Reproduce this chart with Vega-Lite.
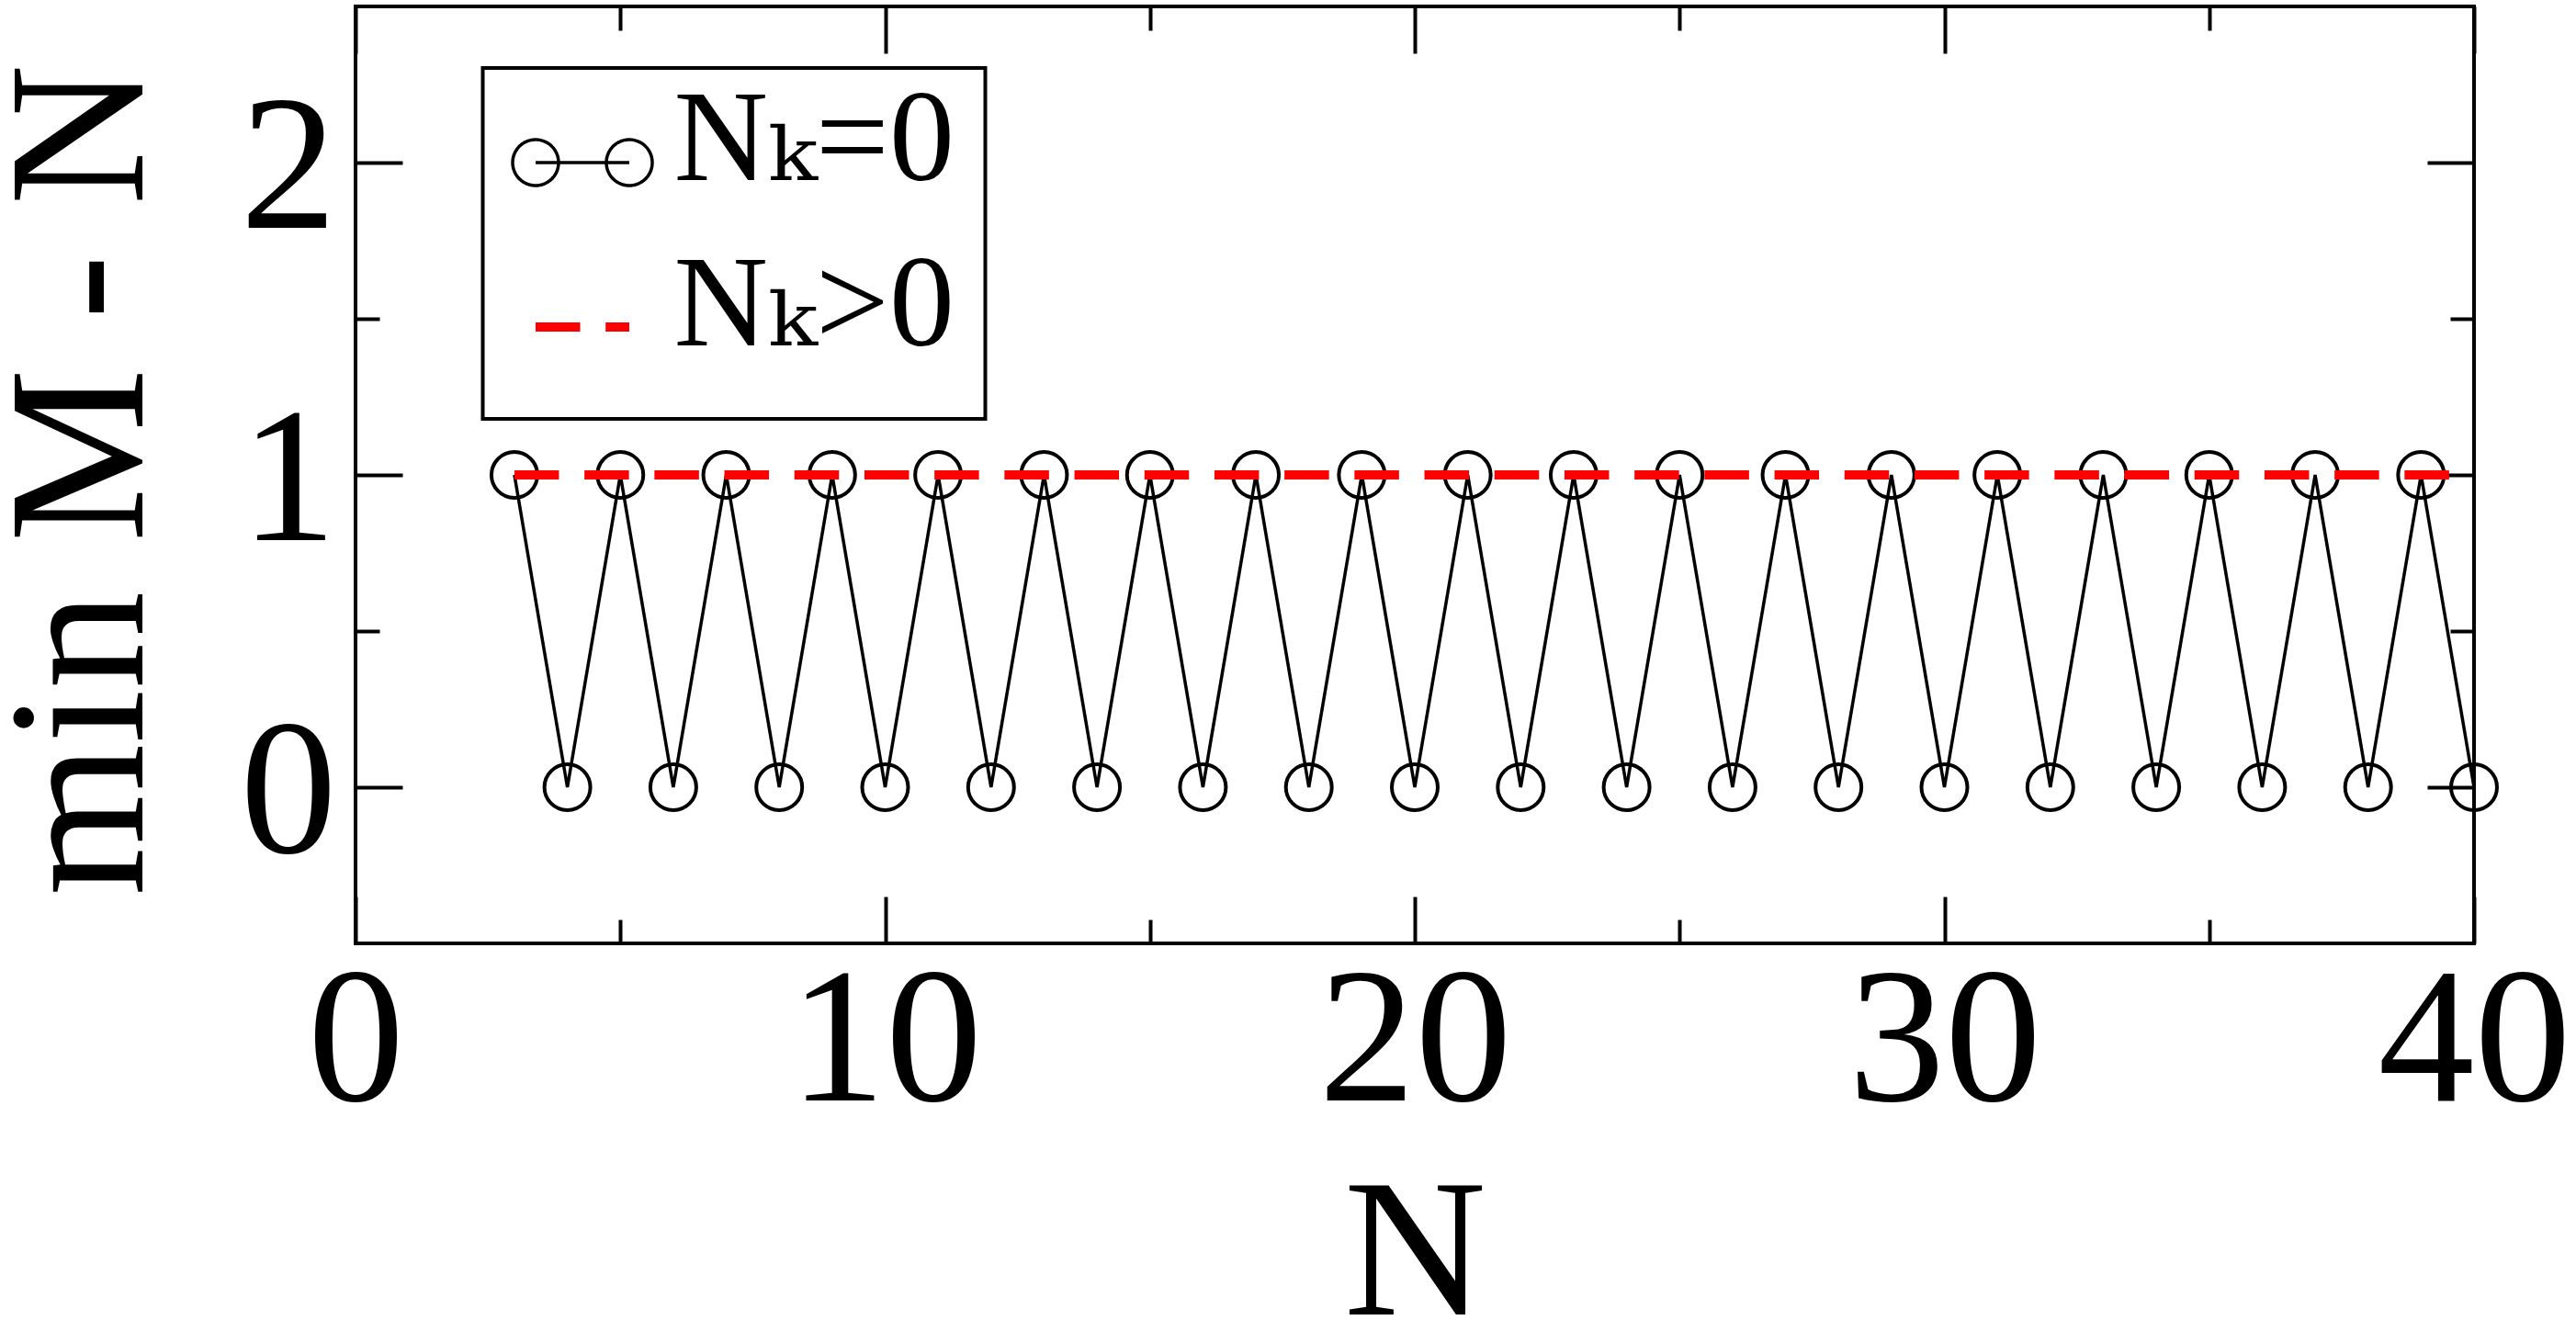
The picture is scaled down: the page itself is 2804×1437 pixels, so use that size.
{
  "$schema": "https://vega.github.io/schema/vega-lite/v6.json",
  "width": 2306,
  "height": 1020,
  "autosize": {"type": "none"},
  "padding": {"left": 387, "top": 7, "right": 111, "bottom": 410},
  "background": "white",
  "config": {
    "view": {"stroke": "black", "strokeWidth": 4},
    "font": "Liberation Serif",
    "axis": {
      "domain": false, "grid": false, "tickColor": "black", "tickWidth": 4,
      "labelColor": "black", "titleColor": "black", "labelLimit": 0,
      "labelFont": "Liberation Serif", "titleFont": "Liberation Serif",
      "titleFontWeight": "normal", "labelFlush": false, "labelOverlap": false
    },
    "legend": {"strokeWidth": 4}
  },
  "data": {
    "values": [
      {"N": 3, "v": 1, "series": "N\u2096=0"}, {"N": 4, "v": 0, "series": "N\u2096=0"},
      {"N": 5, "v": 1, "series": "N\u2096=0"}, {"N": 6, "v": 0, "series": "N\u2096=0"},
      {"N": 7, "v": 1, "series": "N\u2096=0"}, {"N": 8, "v": 0, "series": "N\u2096=0"},
      {"N": 9, "v": 1, "series": "N\u2096=0"}, {"N": 10, "v": 0, "series": "N\u2096=0"},
      {"N": 11, "v": 1, "series": "N\u2096=0"}, {"N": 12, "v": 0, "series": "N\u2096=0"},
      {"N": 13, "v": 1, "series": "N\u2096=0"}, {"N": 14, "v": 0, "series": "N\u2096=0"},
      {"N": 15, "v": 1, "series": "N\u2096=0"}, {"N": 16, "v": 0, "series": "N\u2096=0"},
      {"N": 17, "v": 1, "series": "N\u2096=0"}, {"N": 18, "v": 0, "series": "N\u2096=0"},
      {"N": 19, "v": 1, "series": "N\u2096=0"}, {"N": 20, "v": 0, "series": "N\u2096=0"},
      {"N": 21, "v": 1, "series": "N\u2096=0"}, {"N": 22, "v": 0, "series": "N\u2096=0"},
      {"N": 23, "v": 1, "series": "N\u2096=0"}, {"N": 24, "v": 0, "series": "N\u2096=0"},
      {"N": 25, "v": 1, "series": "N\u2096=0"}, {"N": 26, "v": 0, "series": "N\u2096=0"},
      {"N": 27, "v": 1, "series": "N\u2096=0"}, {"N": 28, "v": 0, "series": "N\u2096=0"},
      {"N": 29, "v": 1, "series": "N\u2096=0"}, {"N": 30, "v": 0, "series": "N\u2096=0"},
      {"N": 31, "v": 1, "series": "N\u2096=0"}, {"N": 32, "v": 0, "series": "N\u2096=0"},
      {"N": 33, "v": 1, "series": "N\u2096=0"}, {"N": 34, "v": 0, "series": "N\u2096=0"},
      {"N": 35, "v": 1, "series": "N\u2096=0"}, {"N": 36, "v": 0, "series": "N\u2096=0"},
      {"N": 37, "v": 1, "series": "N\u2096=0"}, {"N": 38, "v": 0, "series": "N\u2096=0"},
      {"N": 39, "v": 1, "series": "N\u2096=0"}, {"N": 40, "v": 0, "series": "N\u2096=0"},
      {"N": 3, "v": 1, "series": "N\u2096>0"}, {"N": 4, "v": 1, "series": "N\u2096>0"},
      {"N": 5, "v": 1, "series": "N\u2096>0"}, {"N": 6, "v": 1, "series": "N\u2096>0"},
      {"N": 7, "v": 1, "series": "N\u2096>0"}, {"N": 8, "v": 1, "series": "N\u2096>0"},
      {"N": 9, "v": 1, "series": "N\u2096>0"}, {"N": 10, "v": 1, "series": "N\u2096>0"},
      {"N": 11, "v": 1, "series": "N\u2096>0"}, {"N": 12, "v": 1, "series": "N\u2096>0"},
      {"N": 13, "v": 1, "series": "N\u2096>0"}, {"N": 14, "v": 1, "series": "N\u2096>0"},
      {"N": 15, "v": 1, "series": "N\u2096>0"}, {"N": 16, "v": 1, "series": "N\u2096>0"},
      {"N": 17, "v": 1, "series": "N\u2096>0"}, {"N": 18, "v": 1, "series": "N\u2096>0"},
      {"N": 19, "v": 1, "series": "N\u2096>0"}, {"N": 20, "v": 1, "series": "N\u2096>0"},
      {"N": 21, "v": 1, "series": "N\u2096>0"}, {"N": 22, "v": 1, "series": "N\u2096>0"},
      {"N": 23, "v": 1, "series": "N\u2096>0"}, {"N": 24, "v": 1, "series": "N\u2096>0"},
      {"N": 25, "v": 1, "series": "N\u2096>0"}, {"N": 26, "v": 1, "series": "N\u2096>0"},
      {"N": 27, "v": 1, "series": "N\u2096>0"}, {"N": 28, "v": 1, "series": "N\u2096>0"},
      {"N": 29, "v": 1, "series": "N\u2096>0"}, {"N": 30, "v": 1, "series": "N\u2096>0"},
      {"N": 31, "v": 1, "series": "N\u2096>0"}, {"N": 32, "v": 1, "series": "N\u2096>0"},
      {"N": 33, "v": 1, "series": "N\u2096>0"}, {"N": 34, "v": 1, "series": "N\u2096>0"},
      {"N": 35, "v": 1, "series": "N\u2096>0"}, {"N": 36, "v": 1, "series": "N\u2096>0"},
      {"N": 37, "v": 1, "series": "N\u2096>0"}, {"N": 38, "v": 1, "series": "N\u2096>0"},
      {"N": 39, "v": 1, "series": "N\u2096>0"}, {"N": 40, "v": 1, "series": "N\u2096>0"}
    ]
  },
  "resolve": {"axis": {"x": "independent", "y": "independent"}},
  "layer": [
    {
      "transform": [{"filter": "datum.series === 'N\u2096=0'"}],
      "mark": {"type": "line", "strokeWidth": 3.5},
      "encoding": {
        "x": {
          "field": "N", "type": "quantitative",
          "scale": {"domain": [0, 40], "nice": false, "zero": false},
          "axis": {
            "orient": "bottom", "values": [0, 10, 20, 30, 40], "tickSize": -51,
            "labelFontSize": 210, "labelPadding": 55,
            "title": "N", "titleFontSize": 215, "titleY": 403, "titleBaseline": "alphabetic"
          }
        },
        "y": {
          "field": "v", "type": "quantitative",
          "scale": {"domain": [-0.5, 2.5], "nice": false, "zero": false},
          "axis": {
            "orient": "left", "values": [0, 1, 2], "tickSize": -51,
            "labelFontSize": 210, "labelPadding": 72, "labelOffset": 7,
            "title": "min M - N", "titleFontSize": 213, "titleX": -233, "titleY": 515,
            "titleBaseline": "alphabetic", "titleAngle": -90, "titleAlign": "center"
          }
        },
        "stroke": {
          "field": "series", "type": "nominal",
          "scale": {"domain": ["N\u2096=0", "N\u2096>0"], "range": ["#000000", "#ff0000"]},
          "legend": {
            "title": " ", "titleFontSize": 1, "titlePadding": 35,
            "orient": "none", "legendX": 138.5, "legendY": 67,
            "direction": "vertical", "strokeColor": "black", "fillColor": "white",
            "padding": 15, "rowPadding": 38,
            "symbolType": {"expr": "datum.index === 0 ? 'M-0.51,-0.3725A0.49,0.49,0,1,1,-1.49,-0.3725A0.49,0.49,0,1,1,-0.51,-0.3725ZM1.49,-0.3725A0.49,0.49,0,1,1,0.51,-0.3725A0.49,0.49,0,1,1,1.49,-0.3725ZM-1,-0.3725L1,-0.3725M8.16,-0.3725' : 'M-1,-0.392L1,-0.392M0,0.88'"},
            "symbolSize": 10404, "symbolOffset": 22.5, "symbolFillColor": "transparent",
            "symbolDash": {"expr": "datum.index === 0 ? [1, 0] : [48.5, 27.7]"},
            "symbolStrokeWidth": {"expr": "datum.index === 0 ? 3.5 : 10"},
            "labelOffset": 28.5, "labelFont": "Liberation Serif, DejaVu Serif", "labelFontSize": 142,
            "labelBaseline": "alphabetic", "labelColor": "black", "labelLimit": 1000
          }
        }
      }
    },
    {
      "transform": [{"filter": "datum.series === 'N\u2096=0'"}],
      "mark": {"type": "point", "shape": "circle", "filled": false, "size": 2500, "stroke": "black", "strokeWidth": 4, "opacity": 1},
      "encoding": {
        "x": {
          "field": "N", "type": "quantitative",
          "scale": {"domain": [0, 40], "nice": false, "zero": false},
          "axis": {"orient": "bottom", "values": [5, 15, 25, 35], "tickSize": -26, "labels": false, "title": null}
        },
        "y": {
          "field": "v", "type": "quantitative",
          "scale": {"domain": [-0.5, 2.5], "nice": false, "zero": false},
          "axis": {"orient": "left", "values": [0.5, 1.5], "tickSize": -26, "labels": false, "title": null}
        }
      }
    },
    {
      "transform": [{"filter": "datum.series === 'N\u2096>0'"}],
      "mark": {"type": "line", "stroke": "#ff0000", "strokeWidth": 10, "strokeDash": [48.5, 27.7]},
      "encoding": {
        "x": {
          "field": "N", "type": "quantitative",
          "scale": {"domain": [0, 40], "nice": false, "zero": false},
          "axis": {"orient": "top", "values": [0, 10, 20, 30, 40], "tickSize": -51, "labels": false, "title": null}
        },
        "y": {
          "field": "v", "type": "quantitative",
          "scale": {"domain": [-0.5, 2.5], "nice": false, "zero": false},
          "axis": {"orient": "right", "values": [0, 1, 2], "tickSize": -51, "labels": false, "title": null}
        }
      }
    },
    {
      "transform": [{"filter": "datum.series === 'N\u2096>0'"}],
      "mark": {"type": "point", "opacity": 0},
      "encoding": {
        "x": {
          "field": "N", "type": "quantitative",
          "scale": {"domain": [0, 40], "nice": false, "zero": false},
          "axis": {"orient": "top", "values": [5, 15, 25, 35], "tickSize": -26, "labels": false, "title": null}
        },
        "y": {
          "field": "v", "type": "quantitative",
          "scale": {"domain": [-0.5, 2.5], "nice": false, "zero": false},
          "axis": {"orient": "right", "values": [0.5, 1.5], "tickSize": -26, "labels": false, "title": null}
        }
      }
    }
  ]
}
